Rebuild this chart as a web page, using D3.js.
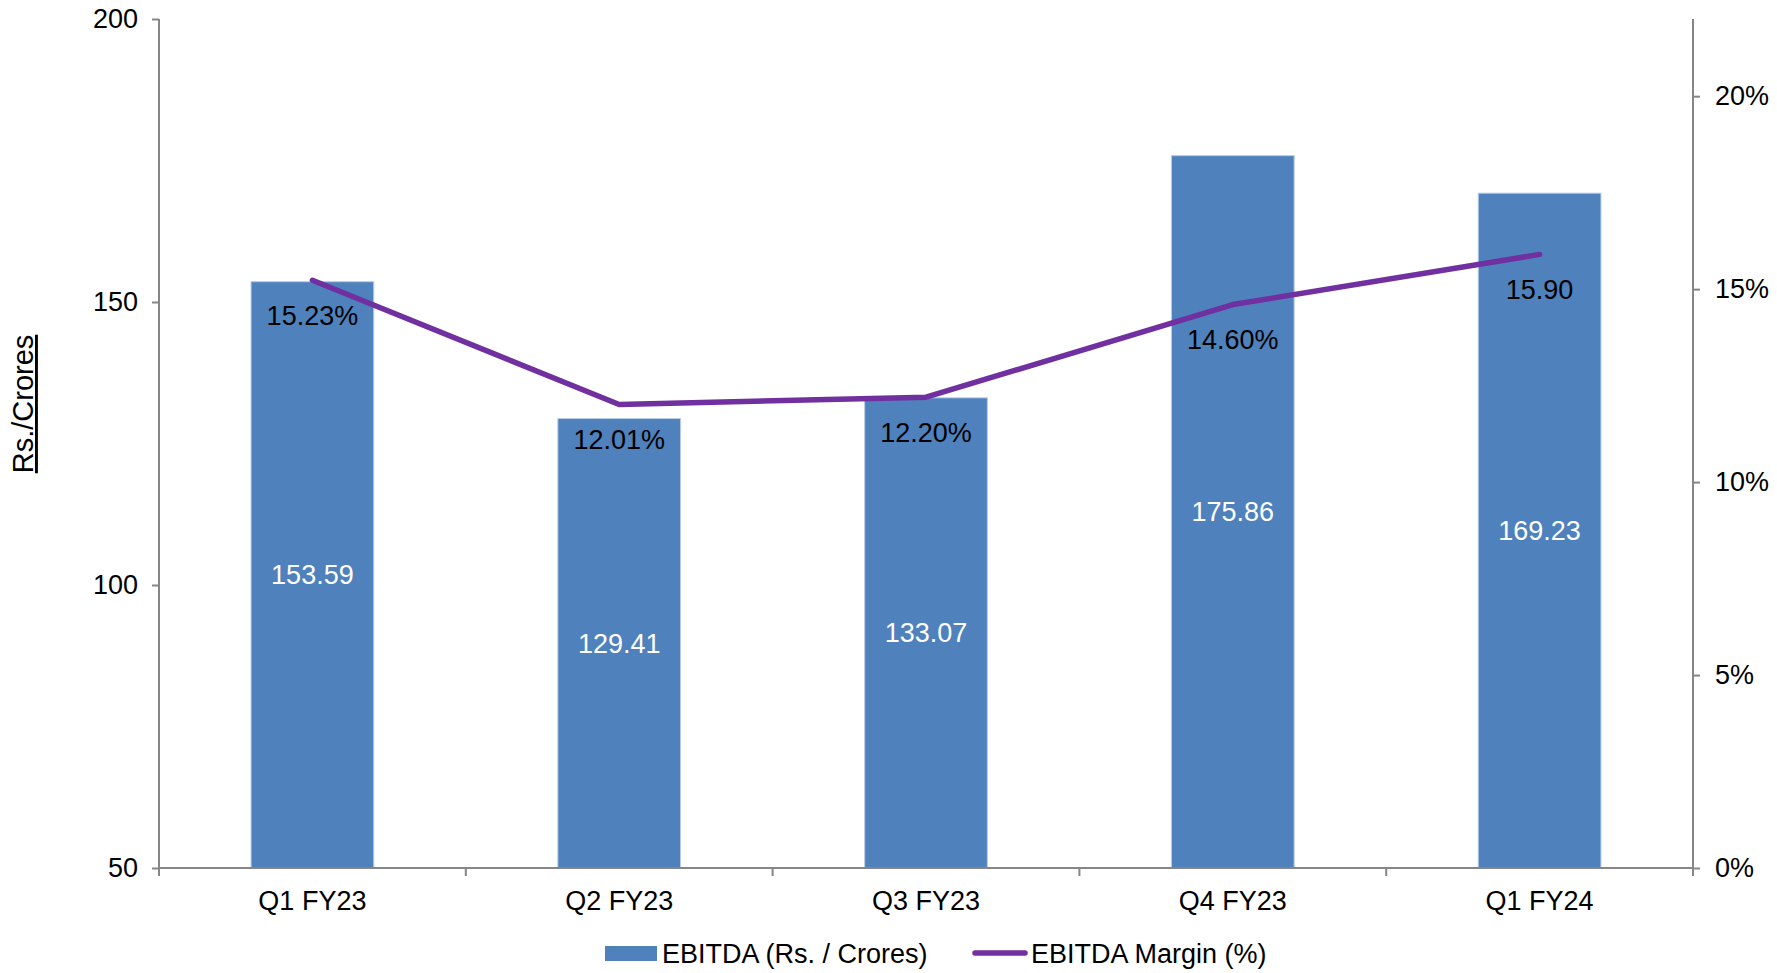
<!DOCTYPE html>
<html><head><meta charset="utf-8">
<script src="https://cdn.jsdelivr.net/npm/d3@7"></script>
<style>body{margin:0;background:#fff}svg{display:block}text{font-family:"Liberation Sans",Arial,sans-serif}</style>
</head><body>
<svg id="c" width="1777" height="973"></svg>
<script>
const categories = ["Q1 FY23","Q2 FY23","Q3 FY23","Q4 FY23","Q1 FY24"];
const ebitda = [153.59,129.41,133.07,175.86,169.23];
const margin = [15.23,12.01,12.20,14.60,15.90];
const marginLabels = ["15.23%","12.01%","12.20%","14.60%","15.90"];
const leftTicks = [50,100,150,200];
const rightTicks = [0,5,10,15,20];

const svg = d3.select("#c");
const L=159, R=1693, T=19, B=868;
const x = d3.scaleBand().domain(categories).range([L,R]).paddingInner(0).paddingOuter(0);
const yL = d3.scaleLinear().domain([50,200]).range([B,T]);
const yR = d3.scaleLinear().domain([0,22]).range([B,T]);
const axisColor="#868686";
const fs=27;

// bars
const bw = x.bandwidth()*0.4;
svg.append("g").selectAll("rect").data(ebitda).join("rect")
  .attr("x",(d,i)=>x(categories[i])+x.bandwidth()/2-bw/2)
  .attr("y",d=>yL(d)).attr("width",bw).attr("height",d=>B-yL(d))
  .attr("fill","#4F81BD").attr("stroke","#B9CDE5").attr("stroke-width",1);

// bar labels
svg.append("g").selectAll("text").data(ebitda).join("text")
  .attr("x",(d,i)=>x(categories[i])+x.bandwidth()/2)
  .attr("y",d=>(yL(d)+B)/2).attr("dy","0.35em")
  .attr("text-anchor","middle").attr("font-size",fs).attr("fill","#fff")
  .text(d=>d.toFixed(2));

// axes
const gL = svg.append("g").attr("transform",`translate(${L},0)`)
  .call(d3.axisLeft(yL).tickValues(leftTicks).tickSize(7).tickPadding(14).tickFormat(d3.format("d")));
const gR = svg.append("g").attr("transform",`translate(${R},0)`)
  .call(d3.axisRight(yR).tickValues(rightTicks).tickSize(7).tickPadding(15).tickFormat(d=>d+"%"));
const gB = svg.append("g").attr("transform",`translate(0,${B})`)
  .call(d3.axisBottom(x).tickSize(0).tickPadding(23));
// category boundary ticks
const bounds = categories.map(c=>x(c)).concat([R]);
svg.append("g").selectAll("line").data(bounds).join("line")
  .attr("x1",d=>d).attr("x2",d=>d).attr("y1",B).attr("y2",B+8)
  .attr("stroke",axisColor).attr("stroke-width",2);
[gL,gR,gB].forEach(g=>{
  g.select(".domain").attr("stroke",axisColor).attr("stroke-width",2);
  g.selectAll(".tick line").attr("stroke",axisColor).attr("stroke-width",2);
  g.selectAll(".tick text").attr("font-size",fs).attr("fill","#000").attr("font-family","Liberation Sans, Arial, sans-serif");
});
gL.select(".domain").attr("d",`M0,${B}V${T}`);
gR.select(".domain").attr("d",`M0,${B}V${T}`);
gB.select(".domain").attr("d",`M${L},0H${R}`);

// line
const line = d3.line().x((d,i)=>x(categories[i])+x.bandwidth()/2).y(d=>yR(d));
svg.append("path").datum(margin).attr("d",line).attr("fill","none")
  .attr("stroke","#7030A0").attr("stroke-width",5.5).attr("stroke-linecap","round").attr("stroke-linejoin","round");

// line labels
svg.append("g").selectAll("text").data(margin).join("text")
  .attr("x",(d,i)=>x(categories[i])+x.bandwidth()/2)
  .attr("y",d=>yR(d)+35).attr("dy","0.35em")
  .attr("text-anchor","middle").attr("font-size",fs).attr("fill","#000")
  .text((d,i)=>marginLabels[i]);

// y title
svg.append("text").attr("transform","translate(33,404) rotate(-90)")
  .attr("text-anchor","middle").attr("font-size",29).attr("fill","#000")
  .attr("text-decoration","underline").text("Rs./Crores");

// legend
const lg = svg.append("g");
lg.append("rect").attr("x",605).attr("y",946).attr("width",52).attr("height",15).attr("fill","#4F81BD");
lg.append("text").attr("x",662).attr("y",954).attr("dy","0.35em").attr("font-size",fs).text("EBITDA (Rs. / Crores)");
lg.append("line").attr("x1",975).attr("x2",1025).attr("y1",953).attr("y2",953)
  .attr("stroke","#7030A0").attr("stroke-width",5.5).attr("stroke-linecap","round");
lg.append("text").attr("x",1031).attr("y",954).attr("dy","0.35em").attr("font-size",fs).text("EBITDA Margin (%)");
</script>
</body></html>
